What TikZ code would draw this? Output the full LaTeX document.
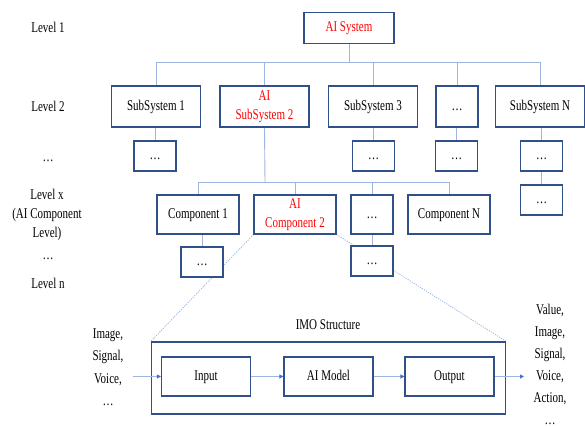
\documentclass[tikz,border=0pt]{standalone}
\usepackage{fontspec}
\usepackage{graphicx}
\setmainfont{Liberation Serif}
\usetikzlibrary{arrows.meta,backgrounds}
\definecolor{boxline}{HTML}{30508A}
\definecolor{linkline}{HTML}{9DB5DF}
\definecolor{tipblue}{HTML}{4472C4}
\definecolor{aired}{HTML}{FF0000}
% tall, narrow lettering: centred lines, stretched vertically
\newcommand{\tx}[1]{\scalebox{1}[1.35]{\begin{tabular}{@{}c@{}}#1\end{tabular}}}
\tikzset{
  every node/.style={font=\fontsize{11}{14}\selectfont, inner sep=0pt},
  box/.style={draw=boxline, line width=1.1pt, fill=white},
  wide/.style={box, minimum width=89pt, minimum height=41pt},
  comp/.style={box, minimum width=82pt, minimum height=39pt},
  small/.style={box, minimum width=42pt, minimum height=30pt},
  blk/.style={box, minimum width=89pt, minimum height=39pt},
  ai/.style={text=aired},
  link/.style={draw=linkline, line width=0.9pt},
  zoomline/.style={draw=linkline, line width=0.8pt, dash pattern=on 1.2pt off 1.2pt},
  flow/.style={draw=linkline, line width=1.2pt,
               -{Triangle[length=4pt,width=4pt,color=tipblue]}},
  side/.style={font=\fontsize{11}{16.3}\selectfont}
}
\begin{document}
\begin{tikzpicture}[x=1pt,y=-1pt]
\useasboundingbox (0,0) rectangle (585,427);

% level captions
\node (l1) at (48,28.5) {\tx{Level 1}};
\node (l2) at (48,107.5) {\tx{Level 2}};
\node (l3) at (48,157.5) {\tx{\dots}};
\node (lx) at (47,214.5) {\tx{Level x\\(AI Component\\Level)}};
\node (l4) at (48,255.5) {\tx{\dots}};
\node (ln) at (48,284.5) {\tx{Level n}};

% level 1
\node[box, minimum width=90pt, minimum height=31pt, ai] (sys) at (349,28) {\tx{AI System}};

% level 2
\node[wide] (ss1) at (156,106.5) {\tx{SubSystem 1}};
\node[wide, ai] (ss2) at (264.5,106.5) {\tx{AI\\SubSystem 2}};
\node[wide] (ss3) at (373,106.5) {\tx{SubSystem 3}};
\node[box, minimum width=42pt, minimum height=41pt] (ssd) at (457,106.5) {\tx{\dots}};
\node[wide] (ssn) at (540,106.5) {\tx{SubSystem N}};

% boxes below level 2
\node[small] (sa) at (155,156) {\tx{\dots}};
\node[small] (sc) at (373.5,156) {\tx{\dots}};
\node[small] (sd) at (456.5,156) {\tx{\dots}};
\node[small] (sn) at (541.5,156) {\tx{\dots}};
\node[small] (sn2) at (541.5,200) {\tx{\dots}};

% component level
\node[comp] (c1) at (198,214.5) {\tx{Component 1}};
\node[comp, ai] (c2) at (295,214.5) {\tx{AI\\Component 2}};
\node[small, minimum height=39pt] (cd) at (372,214.5) {\tx{\dots}};
\node[comp] (cn) at (449,214.5) {\tx{Component N}};

% boxes below components
\node[small] (ca) at (202,262) {\tx{\dots}};
\node[small] (cb) at (372,261) {\tx{\dots}};

% IMO structure
\node (imolabel) at (328,326) {\tx{IMO Structure}};
\node[draw=boxline, line width=1.1pt, minimum width=354.5pt, minimum height=72pt] (imo) at (328.5,378) {};
\node[blk] (inp) at (206,376.5) {\tx{Input}};
\node[blk] (mdl) at (328.5,376.5) {\tx{AI Model}};
\node[blk] (out) at (449.5,376.5) {\tx{Output}};

\node[font=\fontsize{11}{16.6}\selectfont] (intext) at (108,367.5) {\tx{Image,\\Signal,\\Voice,\\\dots}};
\node[side] (outtext) at (550,365.5) {\tx{Value,\\Image,\\Signal,\\Voice,\\Action,\\\dots}};
\coordinate (inend) at (132.5,376.5);
\coordinate (outend) at (524,376.5);

% tree connectors
\begin{scope}[on background layer]
  \coordinate (bus1) at (349,62);
  \draw[link] (sys.south) -- (bus1);
  \draw[link] (ss1.north) |- (bus1);
  \draw[link] (ssn.north) |- (bus1);
  \draw[link] (ss2.north) -- (ss2.north |- bus1);
  \draw[link] (ss3.north) -- (ss3.north |- bus1);
  \draw[link] (ssd.north) -- (ssd.north |- bus1);

  \draw[link] (ss1.south -| sa.north) -- (sa.north);
  \draw[link] (sc.north) -- (sc.north |- ss3.south);
  \draw[link] (sd.north) -- (sd.north |- ssd.south);
  \draw[link] (sn.north) -- (sn.north |- ssn.south);
  \draw[link] (sn.south) -- (sn2.north);

  \coordinate (bus2) at (265,182.5);
  \draw[link] (ss2.south) -- (bus2);
  \draw[link] (c1.north) |- (bus2);
  \draw[link] (cn.north) |- (bus2);
  \draw[link] (c2.north) -- (c2.north |- bus2);
  \draw[link] (cd.north) -- (cd.north |- bus2);

  \draw[link] (ca.north) -- (ca.north |- c1.south);
  \draw[link] (cd.south) -- (cb.north);

  % zoom lines to the IMO structure
  \draw[zoomline] (c2.south west) -- (imo.north west);
  \draw[zoomline] (c2.south east) -- (imo.north east);
\end{scope}

% data flow
\draw[flow] (inend) -- (inp.west);
\draw[flow] (inp.east) -- (mdl.west);
\draw[flow] (mdl.east) -- (out.west);
\draw[flow] (out.east) -- (outend);
\end{tikzpicture}
\end{document}
